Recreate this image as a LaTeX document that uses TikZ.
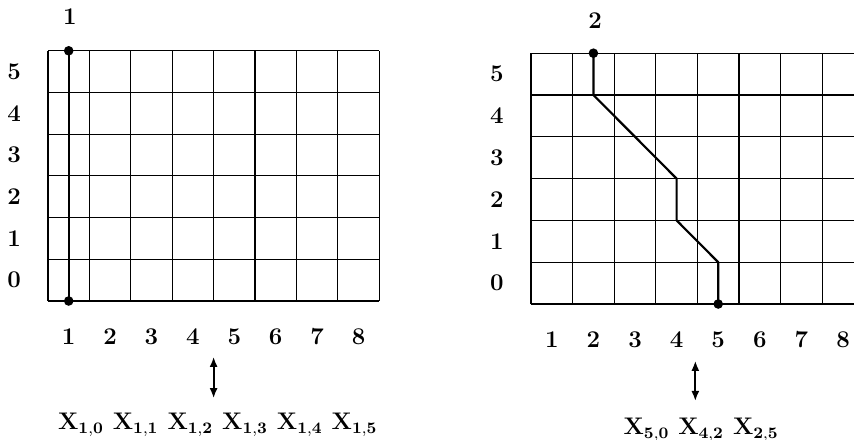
\documentclass[tikz,border=0pt]{standalone}
\usepackage{xcolor}
\usepackage{tikz}
\usetikzlibrary{arrows.meta,positioning}
\newcommand{\xsub}[2]{$\mathbf{X}_{\mathbf{#1,#2}}$}

\begin{document}
\begin{tikzpicture}[
  x=0.5pt, y=0.5pt,
  gridline/.style={line width=0.55pt},
  walk/.style={line width=1.1pt, line join=round},
  dot/.style={circle, fill, inner sep=0pt, minimum size=4.8pt},
  lbl/.style={font=\large\bfseries},
  xlab/.style={font=\large\bfseries, inner sep=1pt},
  link/.style={{Latex[length=5pt,width=4pt]}-{Latex[length=5pt,width=4pt]}, line width=0.9pt},
  ]
  \useasboundingbox (0,0) rectangle (854,439);
  \clip (0,0) rectangle (854,439);

  % Grille 1
  \begin{scope}[shift={(48,138)}, x=20.7pt, y=20.85pt]
    \foreach \i in {0,...,8} \draw[gridline] (\i,0) -- (\i,6);
    \foreach \j in {0,...,6} \draw[gridline] (0,\j) -- (8,\j);
    \foreach \j in {0,...,5} \node[lbl] (ra\j) at (-0.82,\j+0.5) {\j};
    \foreach \i in {1,...,8} \node[lbl] (ca\i) at (\i-0.5,-0.86) {\i};
    \node[lbl] (titlea) at (0.53,6.81) {1};
    % Chemin
    \node[dot] (pa0) at (0.5,6) {};
    \node[dot] (pa1) at (0.5,0) {};
    \draw[walk] (pa0.center) -- (pa1.center);
    % Correspondance
    \coordinate (ua) at (4,-1.34);
    \coordinate (da) at (4,-2.33);
    \draw[link] (ua) -- (da);
    \node[xlab] (seqa) at (4.1,-2.97)
      {\xsub{1}{0} \xsub{1}{1} \xsub{1}{2} \xsub{1}{3} \xsub{1}{4} \xsub{1}{5}};
  \end{scope}

  % Grille 2
  \begin{scope}[shift={(531,135)}, x=20.8pt, y=20.9pt]
    \foreach \i in {0,...,8} \draw[gridline] (\i,0) -- (\i,6);
    \foreach \j in {0,...,6} \draw[gridline] (0,\j) -- (8,\j);
    \foreach \j in {0,...,5} \node[lbl] (rb\j) at (-0.82,\j+0.5) {\j};
    \foreach \i in {1,...,8} \node[lbl] (cb\i) at (\i-0.5,-0.86) {\i};
    \node[lbl] (titleb) at (1.54,6.79) {2};
    % Chemin
    \node[dot] (pb0) at (1.5,6) {};
    \coordinate (pb1) at (1.5,5);
    \coordinate (pb2) at (3.5,3);
    \coordinate (pb3) at (3.5,2);
    \coordinate (pb4) at (4.5,1);
    \node[dot] (pb5) at (4.5,0) {};
    \draw[walk] (pb0.center) -- (pb1) -- (pb2) -- (pb3) -- (pb4) -- (pb5.center);
    % Correspondance
    \coordinate (ub) at (3.95,-1.36);
    \coordinate (db) at (3.95,-2.32);
    \draw[link] (ub) -- (db);
    \node[xlab] (seqb) at (4.09,-3.01) {\xsub{5}{0} \xsub{4}{2} \xsub{2}{5}};
  \end{scope}
\end{tikzpicture}
\end{document}
